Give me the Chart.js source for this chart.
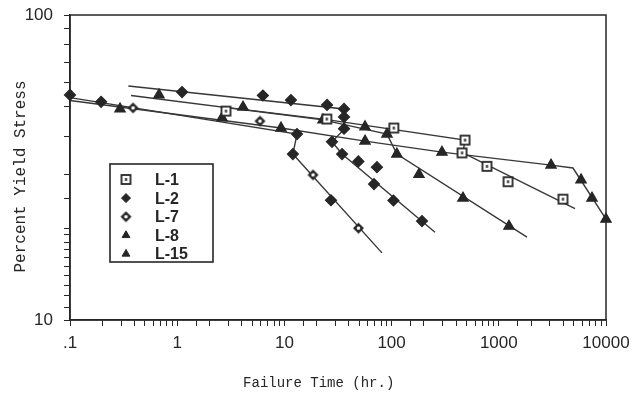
<!DOCTYPE html>
<html>
<head>
<meta charset="utf-8">
<title>Percent Yield Stress vs Failure Time</title>
<script src="https://cdn.jsdelivr.net/npm/chart.js@4.4.1/dist/chart.umd.min.js"></script>
<style>
  html, body { margin: 0; padding: 0; background: #fff; }
  #wrap { width: 641px; height: 401px; }
</style>
</head>
<body>
<div id="wrap"><canvas id="stressChart" width="641" height="401"></canvas></div>
<script>
// ── data: failure time (hr) vs percent yield stress ──
const seriesNames = ['L-1', 'L-2', 'L-7', 'L-8', 'L-15'];

// L-1 (open square)
const l1Hours     = [2.85, 24.9, 105, 484, 454, 776, 1219, 3970];
const l1Stress    = [48.4, 45.6, 42.6, 38.9, 35.3, 31.9, 28.4, 24.9];
const l1FitHours  = [2.85, 24.9, 484, 463, 5140];
const l1FitStress = [49.8, 45.4, 38.9, 35.3, 23.2];

// L-2 (filled diamond)
const l2Hours     = [0.1, 0.195, 1.11, 6.3, 11.5, 25, 36, 36, 36, 13.1, 12.0, 27.2,
                     27.8, 34.5, 49, 73, 68.5, 104, 192];
const l2Stress    = [54.7, 51.9, 55.9, 54.45, 52.6, 50.7, 49.2, 46.3, 42.4, 40.7, 35.0, 24.7,
                     38.4, 35.0, 33.1, 31.7, 27.9, 24.65, 21.1];
const l2FitHours  = [0.35, 36, 36.5, 36.5, 27.8, 34.5, 254];
const l2FitStress = [58.5, 49.2, 46.3, 42.4, 38.4, 35.0, 19.4];

// L-7 (open diamond)
const l7Hours     = [0.387, 5.92, 18.5, 49.1];
const l7Stress    = [49.6, 44.9, 29.9, 20.0];
const l7FitHours  = [0.1, 13.1, 12.0, 81.3];
const l7FitStress = [53.6, 40.7, 35.0, 16.6];

// L-8 (filled triangle)
const l8Hours     = [0.676, 4.11, 22.9, 56.5, 90.6, 112, 180, 463, 1245];
const l8Stress    = [54.7, 49.9, 45.3, 43.0, 40.7, 35.0, 30.0, 25.1, 20.3];
const l8FitHours  = [0.371, 22.9, 90.6, 112, 1832];
const l8FitStress = [54.45, 45.3, 40.7, 35.0, 18.7];

// L-15 (triangle)
const l15Hours     = [0.293, 2.62, 9.3, 56.5, 295, 3070, 5850, 7400, 10000];
const l15Stress    = [49.2, 46.0, 42.6, 38.6, 35.5, 32.2, 28.8, 25.1, 21.4];
const l15FitHours  = [0.1, 9.3, 56.5, 295, 3070, 4920, 10000];
const l15FitStress = [52.45, 42.6, 38.6, 35.5, 32.2, 31.5, 21.4];

const xTickLabels = ['.1', '1', '10', '100', '1000', '10000'];

const INK = '#262626';
const LINE = '#383838';

// ── marker sprites ──
function squareDot() {
  const c = document.createElement('canvas');
  c.width = c.height = 13;
  const g = c.getContext('2d');
  g.fillStyle = '#fff';
  g.fillRect(2, 2, 9, 9);
  g.strokeStyle = INK;
  g.lineWidth = 1.8;
  g.strokeRect(2, 2, 9, 9);
  g.fillStyle = INK;
  g.fillRect(5.5, 5, 2, 3);
  return c;
}

function diamondDot() {
  const c = document.createElement('canvas');
  c.width = c.height = 13;
  const g = c.getContext('2d');
  g.fillStyle = INK;
  g.beginPath();
  g.moveTo(6.5, 1); g.lineTo(12, 6.5); g.lineTo(6.5, 12); g.lineTo(1, 6.5);
  g.closePath();
  g.fill();
  g.fillStyle = '#fff';
  g.beginPath();
  g.arc(6.5, 6.5, 1.8, 0, Math.PI * 2);
  g.fill();
  return c;
}

const markerStyles = [
  { pointStyle: squareDot(), radius: 6 },
  { pointStyle: 'rectRot', radius: 5.5 },
  { pointStyle: diamondDot(), radius: 6 },
  { pointStyle: 'triangle', radius: 6 },
  { pointStyle: 'triangle', radius: 6 },
];

const pts = (xs, ys) => xs.map((x, i) => ({ x, y: ys[i] }));

function fitLine(xs, ys) {
  return {
    data: pts(xs, ys),
    showLine: true,
    borderColor: LINE,
    borderWidth: 1.4,
    pointRadius: 0,
    pointHoverRadius: 0,
    order: 2,
    clip: false,
  };
}

function markers(xs, ys, k) {
  return {
    label: seriesNames[k],
    data: pts(xs, ys),
    showLine: false,
    pointStyle: markerStyles[k].pointStyle,
    pointRadius: markerStyles[k].radius,
    pointBackgroundColor: INK,
    pointBorderColor: INK,
    pointBorderWidth: 1.2,
    order: 1,
    clip: false,
  };
}

const isDecade = (v) => Math.abs(Math.log10(v) - Math.round(Math.log10(v))) < 1e-6;

// ── frame, axis titles and boxed legend ──
const framePlugin = {
  id: 'frame',
  afterDraw(chart) {
    const { ctx, chartArea: a } = chart;
    ctx.save();
    ctx.strokeStyle = INK;
    ctx.lineWidth = 1.5;
    ctx.strokeRect(a.left, a.top, a.right - a.left, a.bottom - a.top);

    ctx.fillStyle = INK;
    ctx.textAlign = 'center';
    ctx.textBaseline = 'middle';
    ctx.font = '14px "Liberation Mono"';
    ctx.fillText('Failure Time (hr.)', a.left + (a.right - a.left) * 0.464, 383);

    ctx.save();
    ctx.translate(21, (a.top + a.bottom) / 2 + 9);
    ctx.rotate(-Math.PI / 2);
    ctx.font = '16px "Liberation Mono"';
    ctx.fillText('Percent Yield Stress', 0, 0);
    ctx.restore();

    // legend box
    const lx = a.left + 40, ly = a.top + 149;
    ctx.lineWidth = 1.6;
    ctx.fillStyle = '#fff';
    ctx.fillRect(lx, ly, 103, 98);
    ctx.strokeRect(lx, ly, 103, 98);
    ctx.font = 'bold 16px "Liberation Sans"';
    ctx.textAlign = 'left';
    seriesNames.forEach((name, k) => {
      const y = ly + 15.5 + k * 18.6;
      ctx.fillStyle = INK;
      ctx.strokeStyle = INK;
      ctx.lineWidth = 1;
      const st = markerStyles[k];
      if (Chart.helpers && Chart.helpers.drawPoint) {
        Chart.helpers.drawPoint(ctx, {
          pointStyle: st.pointStyle,
          rotation: 0,
          radius: k >= 3 ? 4.5 : st.radius - 1,
          borderWidth: 1,
        }, lx + 16, y);
      }
      ctx.fillStyle = INK;
      ctx.fillText(name, lx + 45, y + 1);
    });
    ctx.restore();
  },
};

new Chart(document.getElementById('stressChart'), {
  type: 'scatter',
  data: {
    datasets: [
      markers(l1Hours, l1Stress, 0),
      markers(l2Hours, l2Stress, 1),
      markers(l7Hours, l7Stress, 2),
      markers(l8Hours, l8Stress, 3),
      markers(l15Hours, l15Stress, 4),
      fitLine(l1FitHours, l1FitStress),
      fitLine(l2FitHours, l2FitStress),
      fitLine(l7FitHours, l7FitStress),
      fitLine(l8FitHours, l8FitStress),
      fitLine(l15FitHours, l15FitStress),
    ],
  },
  options: {
    responsive: false,
    animation: false,
    layout: { padding: { top: 15, right: 35, left: 0, bottom: 0 } },
    plugins: {
      legend: { display: false },
      tooltip: { enabled: false },
    },
    scales: {
      x: {
        type: 'logarithmic',
        min: 0.1,
        max: 10000,
        afterFit: (s) => { s.height = 81; s.paddingLeft = 0; s.paddingRight = 0; },
        grid: { drawOnChartArea: false, drawTicks: true, tickLength: 6, color: INK },
        border: { display: true, color: INK, width: 1.5 },
        ticks: {
          autoSkip: false,
          maxRotation: 0,
          padding: 7,
          color: INK,
          font: { family: 'Liberation Sans', size: 17 },
          callback: (v) => isDecade(v) ? xTickLabels[Math.round(Math.log10(v)) + 1] : '',
        },
      },
      y: {
        type: 'logarithmic',
        min: 10,
        max: 100,
        afterFit: (s) => { s.width = 70; s.paddingTop = 0; s.paddingBottom = 0; },
        grid: { drawOnChartArea: false, drawTicks: true, tickLength: 6, color: INK },
        border: { display: true, color: INK, width: 1.5 },
        ticks: {
          autoSkip: false,
          padding: 11,
          color: INK,
          font: { family: 'Liberation Sans', size: 17 },
          callback: (v) => isDecade(v) ? String(Math.round(v)) : '',
        },
      },
    },
  },
  plugins: [framePlugin],
});
</script>
</body>
</html>
